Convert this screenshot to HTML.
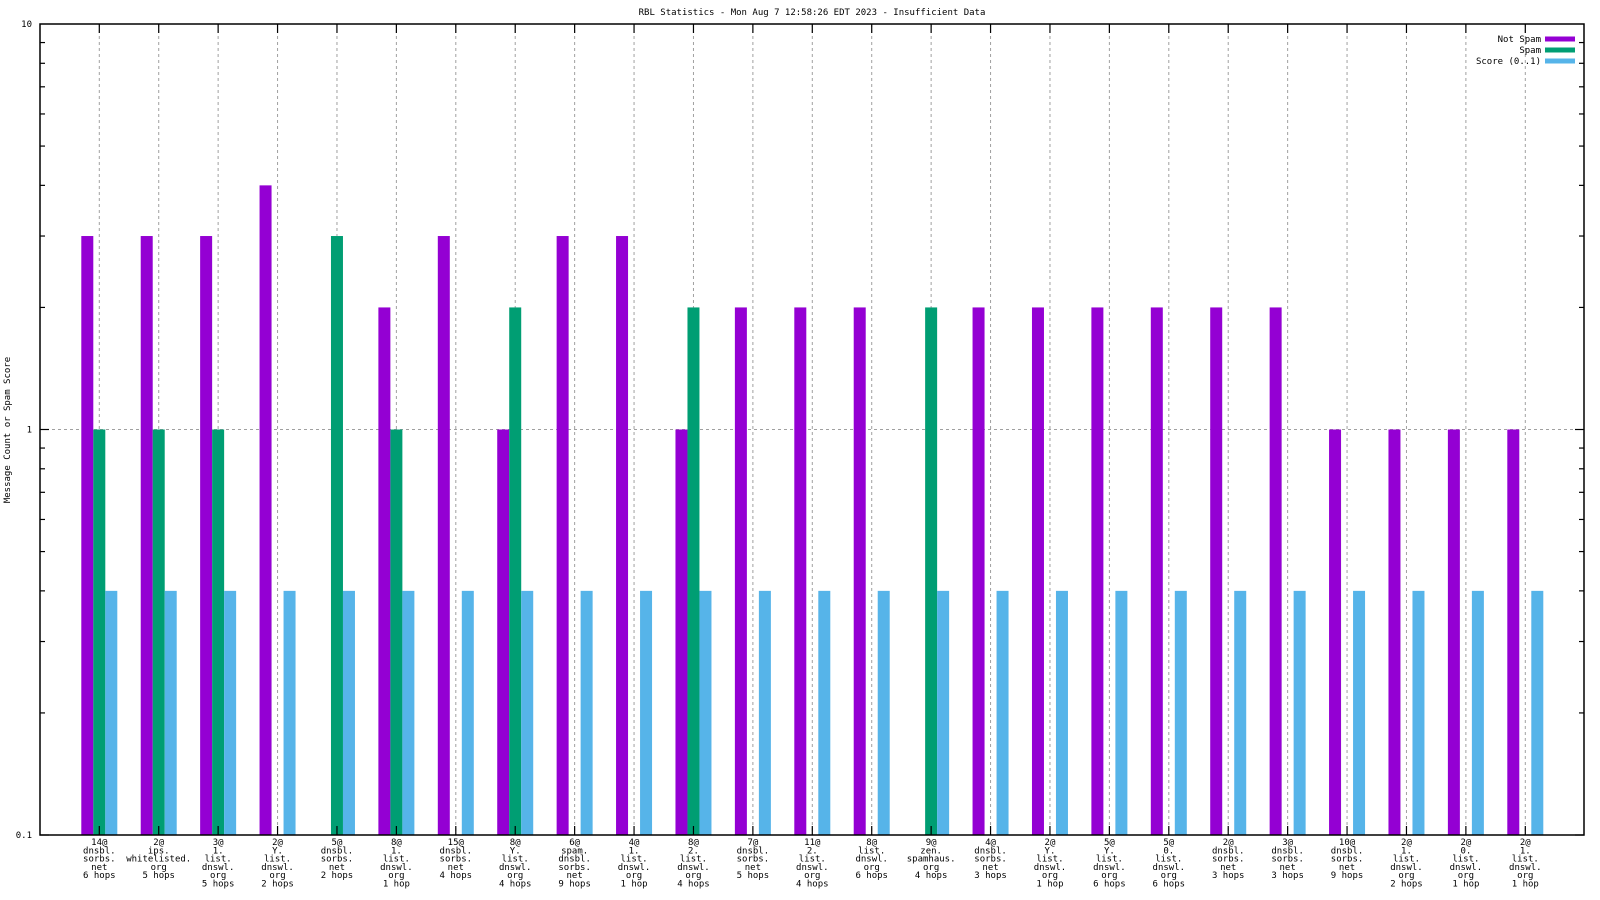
<!DOCTYPE html>
<html><head><meta charset="utf-8"><style>
html,body{margin:0;padding:0;background:#fff;}
svg{display:block;font-family:"DejaVu Sans Mono","Liberation Mono",monospace;}
</style></head><body>
<svg id="chart" width="1600" height="900" viewBox="0 0 1600 900" xmlns="http://www.w3.org/2000/svg">
<text x="812" y="15" font-size="9" text-anchor="middle">RBL Statistics - Mon Aug  7 12:58:26 EDT 2023 - Insufficient Data</text>
<text transform="translate(10,430) rotate(-90)" font-size="9" text-anchor="middle">Message Count or Spam Score</text>
<g id="grid"></g><g id="bars"></g><g id="axes"></g><g id="labels"></g>
<g id="legend"></g>
</svg>
<script>
const categories=[
["14@","dnsbl.","sorbs.","net","6 hops"],["2@","ips.","whitelisted.","org","5 hops"],["3@","1.","list.","dnswl.","org","5 hops"],["2@","Y.","list.","dnswl.","org","2 hops"],["5@","dnsbl.","sorbs.","net","2 hops"],["8@","1.","list.","dnswl.","org","1 hop"],["15@","dnsbl.","sorbs.","net","4 hops"],["8@","Y.","list.","dnswl.","org","4 hops"],["6@","spam.","dnsbl.","sorbs.","net","9 hops"],["4@","1.","list.","dnswl.","org","1 hop"],["8@","2.","list.","dnswl.","org","4 hops"],["7@","dnsbl.","sorbs.","net","5 hops"],["11@","2.","list.","dnswl.","org","4 hops"],["8@","list.","dnswl.","org","6 hops"],["9@","zen.","spamhaus.","org","4 hops"],["4@","dnsbl.","sorbs.","net","3 hops"],["2@","Y.","list.","dnswl.","org","1 hop"],["5@","Y.","list.","dnswl.","org","6 hops"],["5@","0.","list.","dnswl.","org","6 hops"],["2@","dnsbl.","sorbs.","net","3 hops"],["3@","dnsbl.","sorbs.","net","3 hops"],["10@","dnsbl.","sorbs.","net","9 hops"],["2@","1.","list.","dnswl.","org","2 hops"],["2@","0.","list.","dnswl.","org","1 hop"],["2@","1.","list.","dnswl.","org","1 hop"]];
const notSpam=[3,3,3,4,0,2,3,1,3,3,1,2,2,2,0,2,2,2,2,2,2,1,1,1,1];
const spam=[1,1,1,0,3,1,0,2,0,0,2,0,0,0,2,0,0,0,0,0,0,0,0,0,0];
const score=[0.4,0.4,0.4,0.4,0.4,0.4,0.4,0.4,0.4,0.4,0.4,0.4,0.4,0.4,0.4,0.4,0.4,0.4,0.4,0.4,0.4,0.4,0.4,0.4,0.4];
const yTickLabels=["0.1","1","10"];
const yTickValues=[0.1,1,10];
const seriesNames=["Not Spam","Spam","Score (0..1)"];
const colors=["#9400d3","#009e73","#56b4e9"];
const L=40,R=1584,T=24,B=835;
const NS="http://www.w3.org/2000/svg";
function y(v){return B-(Math.log10(v)+1)/2*(B-T);}
function x(i){return 99.3+i*((1525.3-99.3)/(categories.length-1));}
function mk(t,a,p){const e=document.createElementNS(NS,t);for(const k in a)e.setAttribute(k,a[k]);document.getElementById(p).appendChild(e);return e;}
// grid
categories.forEach((c,i)=>{const g=mk('line',{x1:x(i),x2:x(i),y1:T,y2:B,stroke:'#a0a0a0','stroke-dasharray':'3,3','stroke-width':1},'grid');

});
const hg=mk('line',{x1:L,x2:R,y1:y(1),y2:y(1),stroke:'#a0a0a0','stroke-dasharray':'3,3'},'grid');


// bars
const series=[notSpam,spam,score];const offs=[-18,-6,6];
series.forEach((s,k)=>s.forEach((v,i)=>{if(!(v>0))return;const yy=y(v);
const r=mk('rect',{x:x(i)+offs[k],y:yy,width:12,height:B-yy,fill:colors[k]},'bars');

}));
// axes
const fr=mk('rect',{x:L,y:T,width:R-L,height:B-T,fill:'none',stroke:'#000','stroke-width':1.5},'axes');


for(let d=0.1;d<10;d*=10){for(let m=1;m<10;m++){const v=d*m;const len=m===1?9:5;
mk('line',{x1:L,x2:L+len,y1:y(v),y2:y(v),stroke:'#000','stroke-width':1.2},'axes');
mk('line',{x1:R,x2:R-len,y1:y(v),y2:y(v),stroke:'#000','stroke-width':1.2},'axes');}}
yTickValues.forEach((v,i)=>{const t=mk('text',{x:L-8,y:y(v)+3,'font-size':9,'text-anchor':'end'},'labels');t.textContent=yTickLabels[i];

});
categories.forEach((c,i)=>{mk('line',{x1:x(i),x2:x(i),y1:B,y2:B-9,stroke:'#000','stroke-width':1.2},'axes');
mk('line',{x1:x(i),x2:x(i),y1:T,y2:T+9,stroke:'#000','stroke-width':1.2},'axes');
const t=mk('text',{x:x(i),y:845,'font-size':9,'text-anchor':'middle'},'labels');


c.forEach((ln,j)=>{const ts=document.createElementNS(NS,'tspan');ts.setAttribute('x',x(i));ts.setAttribute('y',845+j*8.3);ts.textContent=ln;t.appendChild(ts);});});
// legend
seriesNames.forEach((n,k)=>{const yy=39+k*11;
const t=mk('text',{x:1541,y:yy+3,'font-size':9,'text-anchor':'end'},'legend');t.textContent=n;


const r=mk('rect',{x:1545,y:yy-2.5,width:30,height:5,fill:colors[k]},'legend');

});
</script>
</body></html>
